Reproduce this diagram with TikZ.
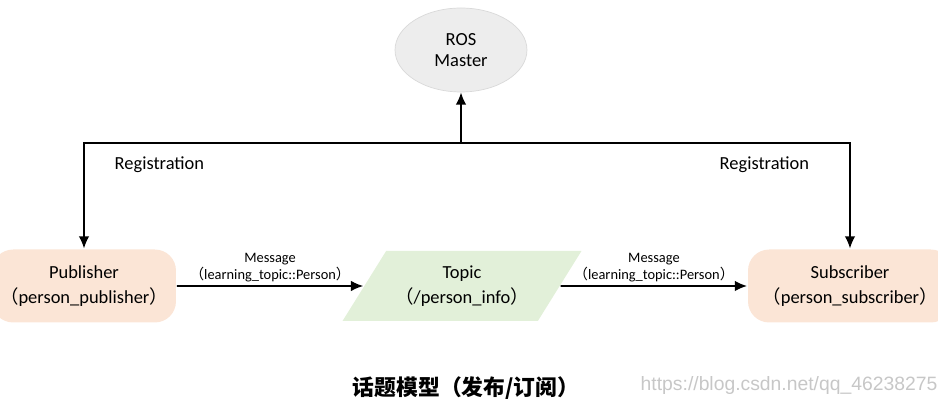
\documentclass[tikz,border=0pt]{standalone}
\usepackage{fontspec}
\setmainfont{Carlito}
\newfontfamily\cjk{Noto Sans CJK SC}
\newfontfamily\wmfont{Liberation Sans}
\usetikzlibrary{shapes.geometric,arrows.meta}
\definecolor{nodefill}{HTML}{FBE5D6}
\definecolor{topicfill}{HTML}{E2F0D9}
\definecolor{masterfill}{HTML}{EDEDED}
\newcommand{\lpar}{{\cjk （}}
\newcommand{\rpar}{{\cjk ）}}

\begin{document}
\begin{tikzpicture}[x=0.02cm, y=-0.02cm, line width=1pt, >={Latex[length=7pt,width=6pt]},
  txt/.style={font=\fontsize{10.5}{14}\selectfont, align=center},
  box/.style={txt, fill=nodefill, rounded corners=12pt, minimum height=1.46cm},
  lbl/.style={midway, above, align=center, inner sep=2pt, font=\fontsize{8.2}{9.5}\selectfont}]
\useasboundingbox (0,0) rectangle (938,404);
\node[txt, ellipse, draw=black!15, thin, fill=masterfill, minimum width=2.64cm, minimum height=1.68cm, font=\fontsize{10.5}{12}\selectfont] (master) at (461,50) {ROS\\Master};
\node[box, minimum width=3.68cm] (pub) at (84,286) {Publisher\\\lpar person\_publisher\rpar};
\node[box, minimum width=4.08cm] (sub) at (850,286) {Subscriber\\\lpar person\_subscriber\rpar};
\node[txt, trapezium, trapezium left angle=50, trapezium right angle=130, trapezium stretches body,
  fill=topicfill, minimum height=1.4cm, minimum width=4.78cm] (topic) at (462,286) {Topic\\\lpar/person\_info\rpar};
\coordinate (junc) at (461,143);

\draw[->] (junc) -- (master);
\draw[->] (junc) -| node[txt, pos=0.4, below=4pt] {Registration} (pub);
\draw[->] (junc) -| node[txt, pos=0.39, below=4pt] {Registration} (sub);
\draw[->] (pub) -- node[lbl] {Message\\\lpar learning\_topic::Person\rpar} (topic);
\draw[->] (topic) -- node[lbl] {Message\\\lpar learning\_topic::Person\rpar} (sub);

\node[font=\cjk\bfseries\fontsize{12.4}{15}\selectfont] (caption) at (466,388) {话题模型（发布/订阅）};
\node[font=\wmfont\fontsize{11}{13}\selectfont, text=black!22, anchor=west] (mark) at (634,386) {https://blog.csdn.net/qq\_46238275};
\end{tikzpicture}
\end{document}
